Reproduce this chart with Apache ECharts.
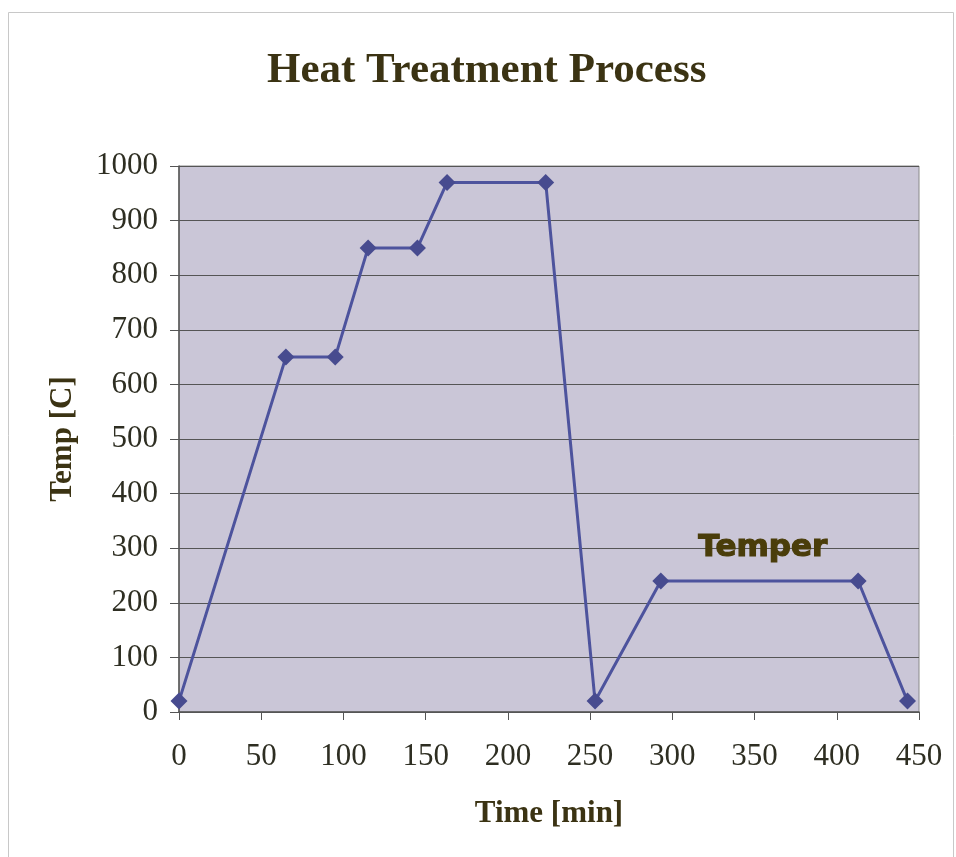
<!DOCTYPE html>
<html>
<head>
<meta charset="utf-8">
<script src="https://cdn.jsdelivr.net/npm/echarts@6/dist/echarts.min.js"></script>
<style>
  html, body { margin: 0; padding: 0; background: #fff; }
  #main { width: 956px; height: 857px; }
</style>
</head>
<body>
<div id="main"></div>
<script>
// data
var timeMin = [0, 65, 95, 115, 145, 163, 223, 253, 293, 413, 443];
var tempC = [20, 650, 650, 850, 850, 970, 970, 20, 240, 240, 20];
var temperLabel = { name: 'Temper', time: 355, temp: 300 };

var points = timeMin.map(function (t, i) { return [t, tempC[i]]; });
var serif = '"Liberation Serif", "Times New Roman", serif';
var textColor = '#3b3313';

var myChart = echarts.init(document.getElementById('main'));
var option = {
    backgroundColor: '#fff',
    title: {
        text: 'Heat Treatment Process',
        left: 262,
        top: 44,
        textStyle: { fontFamily: serif, fontSize: 43, fontWeight: 'bold', color: textColor }
    },
    graphic: [{
        type: 'rect',
        shape: { x: 8.5, y: 12.5, width: 945, height: 850 },
        style: { fill: 'none', stroke: '#c8c8c8', lineWidth: 1 },
        silent: true
    }],
    grid: {
        left: 179, top: 166, right: 37, bottom: 145,
        show: true,
        backgroundColor: '#cac6d7',
        borderColor: '#8a8a8a',
        borderWidth: 1
    },
    xAxis: {
        type: 'value',
        min: 0, max: 450, interval: 50,
        name: 'Time [min]',
        nameLocation: 'middle',
        nameGap: 86,
        nameTextStyle: { fontFamily: serif, fontSize: 31, fontWeight: 'bold', color: textColor },
        axisLine: { show: true, lineStyle: { color: '#555', width: 1.5 } },
        axisTick: { show: true, length: 8, lineStyle: { color: '#555' } },
        axisLabel: { margin: 29, fontFamily: serif, fontSize: 31, color: '#2e2e22' },
        splitLine: { show: false }
    },
    yAxis: {
        type: 'value',
        min: 0, max: 1000, interval: 100,
        name: 'Temp [C]',
        nameLocation: 'middle',
        nameGap: 101,
        nameTextStyle: { fontFamily: serif, fontSize: 31, fontWeight: 'bold', color: textColor },
        axisLine: { show: true, lineStyle: { color: '#555', width: 1.5 } },
        axisTick: { show: true, length: 9, lineStyle: { color: '#555' } },
        axisLabel: {
            margin: 21, fontFamily: serif, fontSize: 31, color: '#2e2e22',
            formatter: function (v) { return String(v); }
        },
        splitLine: { show: true, lineStyle: { color: '#555', width: 1 } }
    },
    series: [{
        type: 'line',
        data: points,
        symbol: 'diamond',
        symbolSize: 17,
        itemStyle: { color: '#474b8f' },
        lineStyle: { color: '#4d539d', width: 3 },
        animation: false,
        markPoint: {
            symbol: 'circle',
            symbolSize: 2,
            itemStyle: { color: 'rgba(0,0,0,0)' },
            data: [{ coord: [temperLabel.time, temperLabel.temp], value: 0 }],
            label: {
                show: true,
                position: 'inside',
                formatter: temperLabel.name,
                fontFamily: '"DejaVu Sans", sans-serif',
                fontWeight: 900,
                fontSize: 31,
                color: '#4a3d0a',
                textBorderColor: '#4a3d0a',
                textBorderWidth: 1.2
            }
        }
    }]
};
myChart.setOption(option);
</script>
</body>
</html>
